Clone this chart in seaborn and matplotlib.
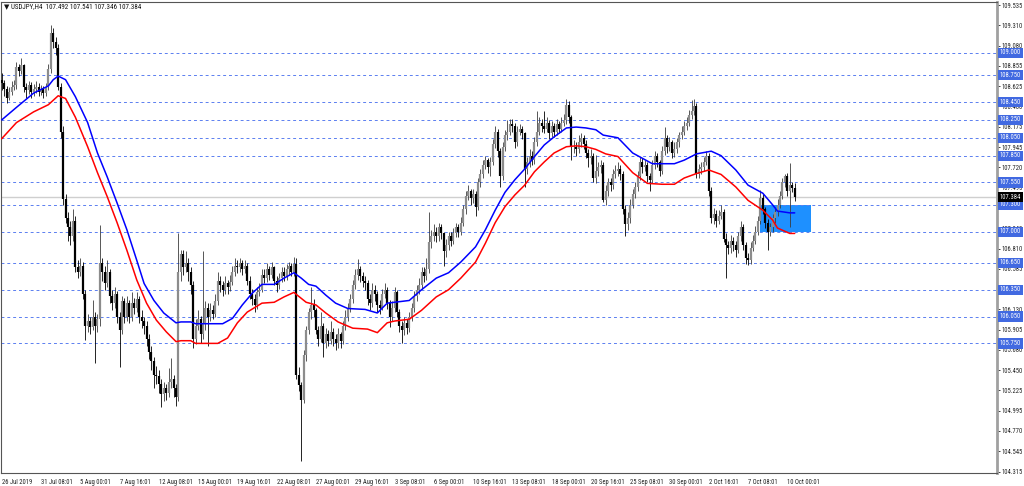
import numpy as np
import pandas as pd
import matplotlib
matplotlib.use("Agg")
import matplotlib.pyplot as plt
import seaborn as sns
from matplotlib import font_manager
from matplotlib.patches import Rectangle
from matplotlib.transforms import blended_transform_factory

# ---------------- data ----------------
symbol_title = "USDJPY,H4"
first_open = 108.70
closes = [
 108.66,108.60,108.50,108.56,108.62,108.64,108.84,108.80,108.86,108.62,
 108.58,108.64,108.56,108.60,108.62,108.56,108.60,108.55,108.62,108.82,
 109.22,109.12,109.05,108.62,108.12,107.36,107.15,107.05,106.95,107.12,
 106.60,106.55,106.62,106.30,105.95,106.00,105.93,106.05,105.95,106.02,
 106.65,106.55,106.42,106.55,106.28,106.20,106.30,106.05,105.90,106.22,
 106.05,106.20,106.05,106.20,106.15,106.25,106.05,106.00,105.95,105.80,
 105.65,105.55,105.40,105.38,105.30,105.18,105.25,105.20,105.32,105.35,
 105.25,105.15,106.55,106.75,106.60,106.65,106.55,106.40,105.80,105.95,
 106.02,105.85,105.97,106.15,106.05,106.12,106.08,106.22,106.45,106.40,
 106.35,106.42,106.38,106.44,106.55,106.62,106.60,106.65,106.58,106.62,
 106.45,106.30,106.25,106.18,106.32,106.35,106.52,106.48,106.58,106.52,
 106.60,106.45,106.40,106.48,106.55,106.50,106.58,106.62,106.55,106.64,
 105.40,105.28,105.12,105.62,105.90,106.10,106.18,106.12,105.90,105.80,
 105.95,105.75,105.85,105.78,105.88,105.80,105.75,105.85,105.78,105.95,
 106.05,106.15,106.25,106.40,106.52,106.58,106.50,106.45,106.42,106.25,
 106.20,106.35,106.30,106.18,106.15,106.30,106.35,106.20,106.05,106.15,
 106.32,106.10,105.95,105.90,105.98,105.92,106.05,106.15,106.28,106.35,
 106.40,106.55,106.50,106.58,106.88,106.95,107.00,106.95,107.05,106.98,
 106.78,106.85,106.95,106.90,106.98,107.05,107.00,107.10,107.25,107.40,
 107.45,107.38,107.42,107.28,107.55,107.65,107.75,107.80,107.72,107.78,
 107.98,108.12,107.90,107.62,107.95,108.08,108.12,108.20,108.18,108.00,
 108.12,108.15,108.10,107.70,107.78,107.85,107.80,108.00,108.12,108.22,
 108.18,108.15,108.22,108.10,108.18,108.12,108.20,108.15,108.22,108.25,
 108.42,108.28,107.95,107.95,107.92,108.00,108.05,107.98,107.88,107.82,
 107.85,107.60,107.68,107.72,107.75,107.35,107.45,107.55,107.52,107.65,
 107.68,107.70,107.65,107.25,107.08,107.15,107.30,107.42,107.50,107.62,
 107.78,107.72,107.75,107.62,107.58,107.75,107.85,107.78,107.68,107.90,
 108.05,107.95,108.00,107.88,107.92,108.00,108.08,108.12,108.18,108.22,
 108.30,108.35,108.40,107.65,107.70,107.72,107.78,107.85,107.45,107.15,
 107.20,107.12,107.18,107.22,106.92,106.85,106.82,106.90,106.85,106.80,
 106.95,107.05,106.85,106.70,106.68,106.82,106.90,107.00,107.12,107.38,
 107.25,107.10,107.00,107.05,107.15,107.22,107.30,107.40,107.55,107.62,
 107.45,107.52,107.492,107.384]
highs = [
 108.77,108.70,108.63,108.62,108.68,108.70,108.90,108.88,108.94,108.88,
 108.66,108.68,108.67,108.65,108.68,108.66,108.64,108.63,108.66,108.88,
 109.31,109.28,109.18,109.10,108.66,108.18,107.42,107.22,107.12,107.25,
 107.18,106.68,106.70,106.66,106.35,106.08,106.05,106.24,106.10,106.08,
 107.07,106.70,106.62,106.68,106.58,106.35,106.38,106.34,106.10,106.28,
 106.26,106.28,106.24,106.33,106.26,106.32,106.28,106.12,106.05,106.00,
 105.85,105.72,105.60,105.50,105.45,105.35,105.32,105.30,105.48,105.59,
 105.40,105.30,106.98,106.79,106.80,106.78,106.70,106.60,106.45,106.02,
 106.12,106.06,106.78,106.22,106.20,106.20,106.18,106.30,106.55,106.50,
 106.45,106.50,106.46,106.52,106.62,106.70,106.68,106.70,106.68,106.68,
 106.65,106.50,106.36,106.30,106.38,106.42,106.58,106.58,106.65,106.62,
 106.66,106.62,106.50,106.54,106.60,106.60,106.64,106.66,106.65,106.72,
 106.70,105.49,105.32,105.68,105.95,106.15,106.38,106.25,106.15,105.95,
 106.10,105.98,105.92,105.90,106.00,105.92,105.85,105.92,105.88,106.00,
 106.12,106.20,106.30,106.46,106.58,106.69,106.62,106.55,106.50,106.46,
 106.30,106.42,106.40,106.34,106.24,106.36,106.42,106.38,106.24,106.22,
 106.38,106.35,106.14,106.00,106.04,106.02,106.10,106.20,106.34,106.40,
 106.48,106.60,106.60,106.70,107.22,107.02,107.08,107.05,107.10,107.08,
 107.00,106.92,107.00,107.00,107.04,107.10,107.08,107.16,107.30,107.46,
 107.52,107.48,107.48,107.45,107.60,107.70,107.80,107.85,107.82,107.83,
 108.04,108.18,108.15,107.94,108.00,108.14,108.25,108.26,108.26,108.22,
 108.18,108.20,108.18,108.12,107.84,107.92,107.90,108.06,108.35,108.28,
 108.26,108.35,108.28,108.25,108.24,108.22,108.26,108.24,108.28,108.32,
 108.48,108.46,108.30,108.02,108.00,108.08,108.10,108.08,108.02,107.92,
 107.92,107.88,107.86,107.78,107.80,107.78,107.52,107.60,107.60,107.70,
 107.74,107.78,107.74,107.68,107.30,107.22,107.36,107.48,107.56,107.68,
 107.84,107.82,107.80,107.78,107.66,107.80,107.90,107.88,107.80,107.96,
 108.17,108.08,108.06,108.02,108.00,108.05,108.12,108.18,108.24,108.28,
 108.36,108.47,108.48,108.44,107.76,107.78,107.84,107.90,107.88,107.50,
 107.26,107.24,107.24,107.30,107.25,106.98,106.90,106.96,106.94,106.90,
 107.00,107.12,107.08,106.88,106.76,106.88,106.96,107.06,107.18,107.47,
 107.42,107.28,107.14,107.10,107.20,107.28,107.36,107.46,107.60,107.65,
 107.66,107.77,107.56,107.541]
lows = [
 108.58,108.52,108.44,108.47,108.53,108.58,108.60,108.74,108.76,108.56,
 108.50,108.54,108.50,108.52,108.55,108.52,108.53,108.50,108.52,108.58,
 108.78,109.05,108.98,108.58,108.05,107.30,107.10,106.90,106.85,106.90,
 106.55,106.48,106.50,106.25,105.79,105.88,105.85,105.90,105.53,105.88,
 105.95,106.45,106.35,106.38,106.20,106.12,106.15,105.98,105.49,105.85,
 105.98,106.00,105.98,106.00,106.08,106.10,105.98,105.92,105.85,105.72,
 105.58,105.45,105.25,105.30,105.20,105.04,105.10,105.12,105.15,105.25,
 105.15,105.05,105.10,106.45,106.52,106.55,106.45,106.30,105.70,105.74,
 105.90,105.75,105.80,105.90,105.72,106.00,106.02,106.04,106.18,106.32,
 106.28,106.30,106.30,106.34,106.40,106.50,106.54,106.55,106.52,106.54,
 106.40,106.25,106.18,106.10,106.14,106.28,106.32,106.42,106.44,106.46,
 106.48,106.40,106.32,106.36,106.44,106.45,106.46,106.52,106.50,106.50,
 105.35,105.22,104.43,105.08,105.55,105.85,106.02,106.05,105.85,105.72,
 105.76,105.60,105.70,105.72,105.74,105.72,105.68,105.70,105.70,105.74,
 105.90,106.00,106.10,106.20,106.36,106.46,106.44,106.38,106.35,106.18,
 106.12,106.16,106.22,106.10,106.08,106.12,106.26,106.14,105.93,106.00,
 106.10,106.04,105.88,105.75,105.84,105.86,105.88,106.00,106.10,106.22,
 106.30,106.36,106.44,106.46,106.54,106.82,106.90,106.88,106.90,106.92,
 106.62,106.72,106.80,106.84,106.86,106.94,106.94,106.96,107.06,107.20,
 107.35,107.30,107.32,107.18,107.24,107.50,107.60,107.70,107.66,107.62,
 107.74,107.94,107.84,107.50,107.58,107.90,108.02,108.08,108.12,107.94,
 107.96,108.08,108.04,107.50,107.64,107.72,107.74,107.76,107.96,108.08,
 108.12,108.10,108.12,108.04,108.06,108.06,108.08,108.10,108.12,108.18,
 108.20,108.22,107.80,107.88,107.85,107.88,107.95,107.92,107.82,107.72,
 107.76,107.55,107.54,107.62,107.66,107.33,107.30,107.40,107.46,107.48,
 107.60,107.62,107.58,107.20,106.95,107.02,107.10,107.26,107.38,107.46,
 107.58,107.66,107.68,107.56,107.45,107.54,107.70,107.72,107.62,107.64,
 107.86,107.88,107.90,107.82,107.84,107.88,107.95,108.04,108.08,108.14,
 108.18,108.26,108.30,107.60,107.60,107.64,107.68,107.74,107.40,107.10,
 107.08,107.05,107.08,107.14,106.88,106.48,106.75,106.76,106.78,106.72,
 106.76,106.90,106.80,106.64,106.63,106.64,106.78,106.86,106.96,107.08,
 107.20,107.04,106.80,106.95,107.00,107.10,107.18,107.26,107.36,107.50,
 107.40,107.05,107.44,107.346]

# moving averages (bar index, price)
blue_bars = [0,6,13,19,21,23,26,30,35,39,43,47,51,55,58,62,66,71,73,77,
             79,90,94,98,102,106,111,115,119,122,125,128,132,136,141,148,153,157,160,166,
             171,177,182,187,193,197,201,205,209,213,217,221,225,230,234,238,242,245,251,257,
             265,274,278,283,289,293,299,304,310,314,316,321,323]
blue_vals = [108.25,108.39,108.55,108.63,108.70,108.74,108.70,108.51,108.22,107.88,
             107.61,107.32,107.02,106.68,106.42,106.23,106.09,105.98,105.99,105.99,
             105.97,105.97,106.03,106.18,106.31,106.41,106.41,106.48,106.54,106.48,
             106.41,106.39,106.29,106.20,106.14,106.13,106.09,106.20,106.21,106.23,
             106.35,106.48,106.54,106.66,106.83,107.02,107.24,107.44,107.58,107.70,
             107.84,107.97,108.06,108.16,108.17,108.16,108.14,108.08,108.05,107.88,
             107.76,107.76,107.80,107.87,107.90,107.85,107.69,107.52,107.43,107.30,
             107.23,107.21,107.21]
red_bars = [0,6,13,19,21,23,26,30,35,39,43,47,51,55,59,63,67,71,73,77,
            79,88,92,96,100,106,111,115,119,124,128,132,137,143,149,153,157,160,166,171,
            177,182,187,193,197,201,205,209,213,217,221,225,230,234,238,242,246,251,257,263,
            269,274,278,283,288,293,299,304,310,314,316,321,323]
red_vals = [108.04,108.22,108.34,108.42,108.47,108.52,108.49,108.28,107.95,107.66,
            107.39,107.10,106.79,106.46,106.20,106.01,105.88,105.77,105.78,105.78,
            105.75,105.75,105.81,105.98,106.10,106.20,106.21,106.27,106.32,106.21,
            106.18,106.09,105.99,105.92,105.91,105.87,105.98,106.00,106.02,106.12,
            106.27,106.35,106.48,106.66,106.87,107.10,107.28,107.41,107.52,107.67,
            107.78,107.88,107.95,107.96,107.95,107.92,107.87,107.84,107.66,107.54,
            107.53,107.53,107.60,107.65,107.69,107.64,107.50,107.35,107.24,107.13,
            107.04,106.98,106.98]

levels = [109.000,108.750,108.450,108.250,108.050,107.850,107.550,107.300,
          107.000,106.650,106.350,106.050,105.750]
price_ticks = [109.535,109.310,109.080,108.855,108.625,108.400,108.175,107.945,
               107.720,107.495,107.265,107.040,106.810,106.585,106.355,106.130,
               105.905,105.680,105.450,105.225,104.995,104.770,104.545,104.315]
date_tick_bars = [0,16,32,48,64,80,96,112,128,144,160,176,192,208,224,240,256,272,288,304,320]
date_tick_labels = ["26 Jul 2019","31 Jul 08:01","5 Aug 00:01","7 Aug 16:01","12 Aug 08:01",
                    "15 Aug 00:01","19 Aug 16:01","22 Aug 08:01","27 Aug 00:01","29 Aug 16:01",
                    "3 Sep 08:01","6 Sep 00:01","10 Sep 16:01","13 Sep 08:01","18 Sep 00:01",
                    "20 Sep 16:01","25 Sep 08:01","30 Sep 00:01","2 Oct 16:01","7 Oct 08:01",
                    "10 Oct 00:01"]
zone_bars = [309, 329.7]
zone_prices = [107.000, 107.300]

# ---------------- plot ----------------
sns.set_style("white")
available = {f.name for f in font_manager.fontManager.ttflist}
narrow_pref = ['Liberation Sans Narrow', 'Roboto Condensed', 'DejaVu Sans Condensed',
               'Open Sans Condensed', 'Liberation Sans', 'Roboto', 'DejaVu Sans']
main_font = next(f for f in narrow_pref if f in available)
FONT = [main_font, 'DejaVu Sans']
plt.rcParams['font.family'] = FONT

fig = plt.figure(figsize=(10.24, 4.86), dpi=100)
ax = fig.add_axes([1/1024, 13/486, 996/1024, 471/486])

# size the small scale font so that a price label is about 21 px wide
renderer = fig.canvas.get_renderer()
probe = fig.text(0, 0, "109.535", fontsize=10, family=FONT)
w10 = probe.get_window_extent(renderer=renderer).width
probe.remove()
FS = min(5.0, 10 * 21.0 / w10)

n = min(len(closes), len(highs), len(lows))
c = np.array(closes[:n]); h = np.array(highs[:n]); l = np.array(lows[:n])
o = np.array([first_open] + closes[:n-1])
xb = np.arange(n)
up = c >= o
dn = ~up

# zone rectangle (behind)
ax.add_patch(Rectangle((zone_bars[0], zone_prices[0]), zone_bars[1]-zone_bars[0],
                       zone_prices[1]-zone_prices[0], fc='#1e90ff', ec='none', zorder=0.5))

# level lines
for lv in levels:
    ax.axhline(lv, color='#5b7ff0', lw=0.7, ls=(0, (3, 3)), zorder=1)
# current price line
ax.axhline(c[-1], color='#cfcfcf', lw=1.0, zorder=0.8)

# candles
ax.vlines(xb[up], l[up], h[up], color='#3c3c3c', lw=0.6, zorder=3)
ax.vlines(xb[up], np.minimum(o, c)[up], np.maximum(o, c)[up], color='#8c8c8c', lw=1.6, zorder=3)
ax.vlines(xb[dn], l[dn], h[dn], color='#000000', lw=0.6, zorder=3)
ax.vlines(xb[dn], np.minimum(o, c)[dn], np.maximum(o, c)[dn], color='#000000', lw=1.6, zorder=3)

# moving averages
df_b = pd.DataFrame({'bar': blue_bars, 'price': blue_vals})
df_r = pd.DataFrame({'bar': red_bars, 'price': red_vals})
sns.lineplot(data=df_b, x='bar', y='price', color='#0000ff', lw=1.1, ax=ax,
             estimator=None, sort=False, legend=False, zorder=4)
sns.lineplot(data=df_r, x='bar', y='price', color='#ff0000', lw=1.1, ax=ax,
             estimator=None, sort=False, legend=False, zorder=4)

# limits
ax.set_xlim(-0.29, 405.4)
ax.set_ylim(104.300, 109.569)
ax.set_xlabel(''); ax.set_ylabel('')

# axes ticks
ax.yaxis.tick_right()
ax.set_yticks(price_ticks)
ax.set_yticklabels([f"{v:.3f}" for v in price_ticks])
ax.tick_params(axis='y', direction='out', length=2, width=0.6, pad=1.0,
               labelsize=FS, colors='#222222')
ax.set_xticks(date_tick_bars)
ax.set_xticklabels(date_tick_labels)
for lab in ax.get_xticklabels():
    lab.set_ha('left')
ax.tick_params(axis='x', direction='out', length=3, width=0.6, pad=1.5,
               labelsize=FS, colors='#222222')
ax.grid(False)

for side in ['left', 'bottom', 'top']:
    ax.spines[side].set_color('#555555')
    ax.spines[side].set_linewidth(0.8)
ax.spines['right'].set_color('#a0a0a0')
ax.spines['right'].set_linewidth(2.0)

# level labels on the price scale
trans = blended_transform_factory(ax.transAxes, ax.transData)
for lv in levels:
    ax.text(1.0028, lv, f"{lv:.3f}", transform=trans, fontsize=FS, color='white',
            va='center', ha='left', clip_on=False, zorder=6,
            bbox=dict(boxstyle='square,pad=0.25', fc='#4169e1', ec='none'))
ax.text(1.0028, c[-1], f"{c[-1]:.3f}", transform=trans, fontsize=FS, color='white',
        va='center', ha='left', clip_on=False, zorder=7,
        bbox=dict(boxstyle='square,pad=0.25', fc='#000000', ec='none'))

# title
title = "\u25bc " + symbol_title + "  " + " ".join(f"{v:.3f}" for v in [o[-1], h[-1], l[-1], c[-1]])
fig.text(4/1024, 1 - 7/486, title, fontsize=FS + 0.3, va='center', ha='left', color='#111111',
         family=FONT)

fig.savefig('out.png', dpi=100, facecolor='white')
